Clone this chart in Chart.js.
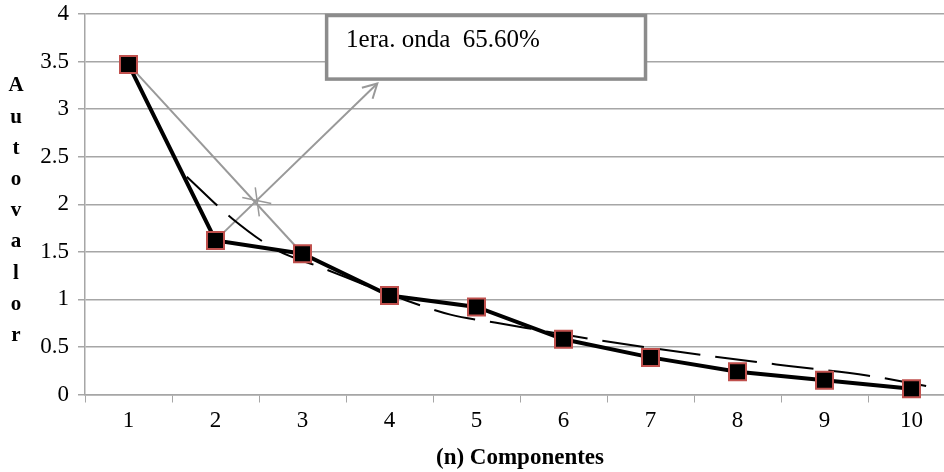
<!DOCTYPE html>
<html>
<head>
<meta charset="utf-8">
<script src="https://cdn.jsdelivr.net/npm/chart.js@4.4.1/dist/chart.umd.min.js"></script>
<style>
  html, body { margin: 0; padding: 0; background: #fff; overflow: hidden; }
  #marco { width: 944px; height: 472px; overflow: hidden; position: relative; }
  #screeChart { display: block; position: absolute; left: 0; top: 0; }
</style>
</head>
<body>
<div id="marco"><canvas id="screeChart" width="969" height="472"></canvas></div>
<script>
// componentes y autovalores
var componentes = ['1', '2', '3', '4', '5', '6', '7', '8', '9', '10'];
var autovalores = [3.47, 1.62, 1.48, 1.04, 0.92, 0.58, 0.39, 0.24, 0.15, 0.06];

// linea de tendencia (discontinua)
var tendenciaX = [1.67, 2.19, 2.70, 3.20, 4.13, 4.70, 5.26, 6.41, 7.64, 8.59, 9.49, 10.23];
var tendenciaY = [2.29, 1.85, 1.52, 1.34, 1.01, 0.84, 0.75, 0.57, 0.41, 0.30, 0.20, 0.08];

// anotacion
var notaTexto = '1era. onda  65.60%';
var flechaInicio = {x: 2, y: 1.62};
var flechaFin = {x: 3.86, y: 3.27};
var diagInicio = {x: 1, y: 3.47};
var diagFin = {x: 3, y: 1.48};
var cruce = {x: 2.48, y: 2.03};
var caja = {x1: 3.26, y1: 4.0, x2: 6.96, y2: 3.30};

var yTitulo = 'Autovalor';
var xTitulo = '(n) Componentes';

var gris = '#a6a6a6';
var grisNota = '#999999';

var tendenciaData = [];
for (var i = 0; i < tendenciaX.length; i++) {
    tendenciaData.push({x: tendenciaX[i], y: tendenciaY[i]});
}

function sinPadding(scale) {
    scale.paddingLeft = 0;
    scale.paddingRight = 0;
    scale.paddingTop = 0;
    scale.paddingBottom = 0;
}

var notaPlugin = {
    id: 'nota',
    afterDatasetsDraw: function(chart) {
        var ctx = chart.ctx;
        var sx = chart.scales.xt;
        var sy = chart.scales.y;
        ctx.save();
        // punta de flecha
        var x0 = sx.getPixelForValue(flechaInicio.x), y0 = sy.getPixelForValue(flechaInicio.y);
        var x1 = sx.getPixelForValue(flechaFin.x), y1 = sy.getPixelForValue(flechaFin.y);
        var ang = Math.atan2(y1 - y0, x1 - x0);
        ctx.strokeStyle = grisNota;
        ctx.lineWidth = 2;
        ctx.beginPath();
        ctx.moveTo(x1 - 16 * Math.cos(ang - 0.5), y1 - 16 * Math.sin(ang - 0.5));
        ctx.lineTo(x1, y1);
        ctx.lineTo(x1 - 16 * Math.cos(ang + 0.5), y1 - 16 * Math.sin(ang + 0.5));
        ctx.stroke();
        // estrella en el cruce
        var cx = sx.getPixelForValue(cruce.x), cy = sy.getPixelForValue(cruce.y);
        ctx.lineWidth = 1.5;
        ctx.beginPath();
        ctx.moveTo(cx - 15, cy - 4); ctx.lineTo(cx + 14, cy + 2);
        ctx.moveTo(cx - 2, cy - 14); ctx.lineTo(cx + 2, cy + 15);
        ctx.stroke();
        // caja de texto
        var bx1 = sx.getPixelForValue(caja.x1), by1 = sy.getPixelForValue(caja.y1);
        var bx2 = sx.getPixelForValue(caja.x2), by2 = sy.getPixelForValue(caja.y2);
        ctx.fillStyle = '#ffffff';
        ctx.fillRect(bx1, by1, bx2 - bx1, by2 - by1);
        ctx.strokeStyle = '#8c8c8c';
        ctx.lineWidth = 3.5;
        ctx.strokeRect(bx1 + 1.5, by1 + 1.5, bx2 - bx1 - 3, by2 - by1 - 3);
        ctx.fillStyle = '#000';
        ctx.font = '25px "Liberation Serif"';
        ctx.textBaseline = 'alphabetic';
        ctx.textAlign = 'left';
        ctx.fillText(notaTexto, bx1 + 21, by1 + 33);
        ctx.restore();
    },
    afterDraw: function(chart) {
        // titulo del eje y, letras apiladas
        var ctx = chart.ctx;
        ctx.save();
        ctx.fillStyle = '#000';
        ctx.font = 'bold 21px "Liberation Serif"';
        ctx.textAlign = 'center';
        ctx.textBaseline = 'middle';
        for (var k = 0; k < yTitulo.length; k++) {
            ctx.fillText(yTitulo[k], 16, 86 + k * 31.2);
        }
        ctx.restore();
    }
};

var chart = new Chart(document.getElementById('screeChart'), {
    type: 'line',
    data: {
        labels: componentes,
        datasets: [
            {
                label: 'Autovalor',
                data: autovalores,
                xAxisID: 'x',
                borderColor: '#000',
                borderWidth: 4,
                pointStyle: 'rect',
                pointRadius: 12,
                pointBackgroundColor: '#000',
                pointBorderColor: '#c0504d',
                pointBorderWidth: 2,
                tension: 0,
                order: 1
            },
            {
                label: 'Tendencia',
                data: tendenciaData,
                xAxisID: 'xt',
                borderColor: '#000',
                borderWidth: 2,
                borderDash: [42, 15],
                pointRadius: 0,
                cubicInterpolationMode: 'monotone',
                order: 2
            },
            {
                label: 'diag',
                data: [diagInicio, diagFin],
                xAxisID: 'xt',
                borderColor: grisNota,
                borderWidth: 2,
                pointRadius: 0,
                order: 3
            },
            {
                label: 'flecha',
                data: [flechaInicio, flechaFin],
                xAxisID: 'xt',
                borderColor: grisNota,
                borderWidth: 2,
                pointRadius: 0,
                order: 3
            }
        ]
    },
    options: {
        responsive: false,
        animation: false,
        clip: false,
        layout: { padding: { top: 13.5, right: 0, left: 0, bottom: 0 } },
        plugins: {
            legend: { display: false },
            tooltip: { enabled: false }
        },
        scales: {
            x: {
                type: 'category',
                offset: true,
                grid: { offset: true, drawOnChartArea: false, tickLength: 8, color: gris },
                border: { color: gris, width: 1.5 },
                ticks: { color: '#000', font: { family: 'Liberation Serif', size: 23 }, padding: 5, maxRotation: 0 },
                title: {
                    display: true,
                    text: xTitulo,
                    color: '#000',
                    font: { family: 'Liberation Serif', size: 23, weight: 'bold' },
                    padding: { top: 0, bottom: 0 }
                },
                afterFit: function(scale) {
                    scale.height = 77.5;
                    sinPadding(scale);
                }
            },
            xt: {
                type: 'linear',
                display: false,
                min: 0.5,
                max: 10.5,
                afterFit: sinPadding
            },
            y: {
                min: 0,
                max: 4,
                ticks: {
                    stepSize: 0.5,
                    color: '#000',
                    font: { family: 'Liberation Serif', size: 23 },
                    padding: 9,
                    callback: function(v) { return String(v); }
                },
                grid: { color: gris, lineWidth: 1.5, tickLength: 7 },
                border: { color: gris, width: 1.5 },
                afterFit: function(scale) {
                    scale.width = 85;
                    sinPadding(scale);
                }
            }
        }
    },
    plugins: [notaPlugin]
});
</script>
</body>
</html>
